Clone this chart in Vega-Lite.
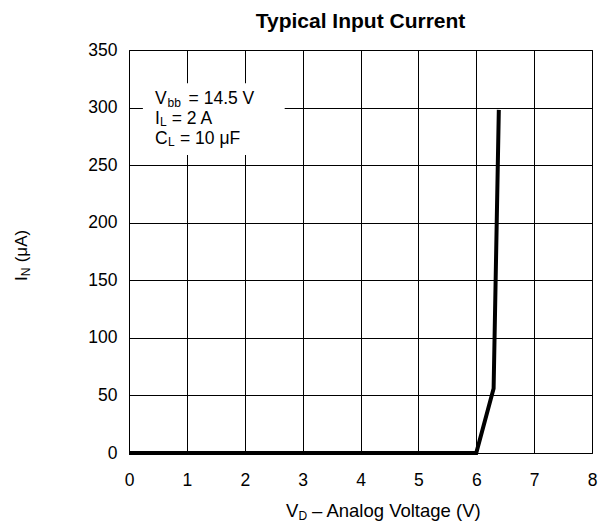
{
  "$schema": "https://vega.github.io/schema/vega-lite/v6.json",
  "width": 463,
  "height": 403,
  "autosize": {"type": "none"},
  "padding": {"left": 129, "top": 50, "right": 16, "bottom": 72},
  "config": {
    "font": "Liberation Sans",
    "view": {"stroke": "black", "strokeWidth": 1},
    "axis": {
      "grid": true,
      "gridColor": "black",
      "gridOpacity": 1,
      "gridWidth": 1,
      "ticks": false,
      "tickSize": 0,
      "domain": false,
      "labelFont": "Liberation Sans",
      "labelFontSize": 17.5,
      "labelColor": "black",
      "title": null
    }
  },
  "title": {
    "text": "Typical Input Current",
    "font": "Liberation Sans",
    "fontSize": 21,
    "fontWeight": "bold",
    "color": "black",
    "anchor": "middle",
    "offset": 9
  },
  "datasets": {
    "current": [
      {"vd": 0, "iin": 0},
      {"vd": 6.0, "iin": 0},
      {"vd": 6.3, "iin": 56},
      {"vd": 6.39, "iin": 298}
    ],
    "box": [{"x0": 0.24, "x1": 2.69, "y0": 258.8, "y1": 321.2}],
    "legendText": [
      {"x": 0.449, "y": 303.1, "t": "V"},
      {"x": 1.03, "y": 303.1, "t": "= 14.5 V"},
      {"x": 0.449, "y": 285.7, "t": "I"},
      {"x": 0.738, "y": 285.7, "t": "= 2 A"},
      {"x": 0.449, "y": 268.4, "t": "C"},
      {"x": 0.881, "y": 268.4, "t": "= 10 μF"}
    ],
    "xTitleMain": [
      {"x": 2.713, "y": -55.6, "t": "V"},
      {"x": 3.162, "y": -55.6, "t": "– Analog Voltage (V)"}
    ],
    "subText": [
      {"x": 0.665, "y": 300.9, "t": "bb"},
      {"x": 0.536, "y": 283.6, "t": "L"},
      {"x": 0.674, "y": 266.2, "t": "L"},
      {"x": 2.929, "y": -58.2, "t": "D"}
    ],
    "yTitleMain": [
      {"x": -1.762, "y": 149.4, "t": "I"},
      {"x": -1.762, "y": 165.6, "t": "(μA)"}
    ],
    "yTitleSub": [
      {"x": -1.711, "y": 153.5, "t": "N"}
    ]
  },
  "layer": [
    {
      "data": {"name": "current"},
      "mark": {"type": "line", "color": "black", "strokeWidth": 4, "strokeCap": "butt", "strokeJoin": "miter", "clip": false},
      "encoding": {
        "x": {
          "field": "vd", "type": "quantitative",
          "scale": {"domain": [0, 8], "nice": false, "zero": false},
          "axis": {"values": [0, 1, 2, 3, 4, 5, 6, 7, 8], "format": "d", "labelPadding": 18, "labelFlush": false}
        },
        "y": {
          "field": "iin", "type": "quantitative",
          "scale": {"domain": [0, 350], "nice": false},
          "axis": {"values": [0, 50, 100, 150, 200, 250, 300, 350], "format": "d", "labelPadding": 12}
        }
      }
    },
    {
      "data": {"name": "box"},
      "mark": {"type": "rect", "fill": "white", "stroke": null},
      "encoding": {
        "x": {"field": "x0", "type": "quantitative"},
        "x2": {"field": "x1"},
        "y": {"field": "y0", "type": "quantitative"},
        "y2": {"field": "y1"}
      }
    },
    {
      "data": {"name": "legendText"},
      "mark": {"type": "text", "align": "left", "baseline": "alphabetic", "fontSize": 17.5, "color": "black", "clip": false},
      "encoding": {
        "x": {"field": "x", "type": "quantitative"},
        "y": {"field": "y", "type": "quantitative"},
        "text": {"field": "t"}
      }
    },
    {
      "data": {"name": "xTitleMain"},
      "mark": {"type": "text", "align": "left", "baseline": "alphabetic", "fontSize": 18.5, "color": "black", "clip": false},
      "encoding": {
        "x": {"field": "x", "type": "quantitative"},
        "y": {"field": "y", "type": "quantitative"},
        "text": {"field": "t"}
      }
    },
    {
      "data": {"name": "subText"},
      "mark": {"type": "text", "align": "left", "baseline": "alphabetic", "fontSize": 12, "color": "black", "clip": false},
      "encoding": {
        "x": {"field": "x", "type": "quantitative"},
        "y": {"field": "y", "type": "quantitative"},
        "text": {"field": "t"}
      }
    },
    {
      "data": {"name": "yTitleMain"},
      "mark": {"type": "text", "align": "left", "baseline": "alphabetic", "angle": 270, "fontSize": 17, "color": "black", "clip": false},
      "encoding": {
        "x": {"field": "x", "type": "quantitative"},
        "y": {"field": "y", "type": "quantitative"},
        "text": {"field": "t"}
      }
    },
    {
      "data": {"name": "yTitleSub"},
      "mark": {"type": "text", "align": "left", "baseline": "alphabetic", "angle": 270, "fontSize": 12, "color": "black", "clip": false},
      "encoding": {
        "x": {"field": "x", "type": "quantitative"},
        "y": {"field": "y", "type": "quantitative"},
        "text": {"field": "t"}
      }
    }
  ]
}
